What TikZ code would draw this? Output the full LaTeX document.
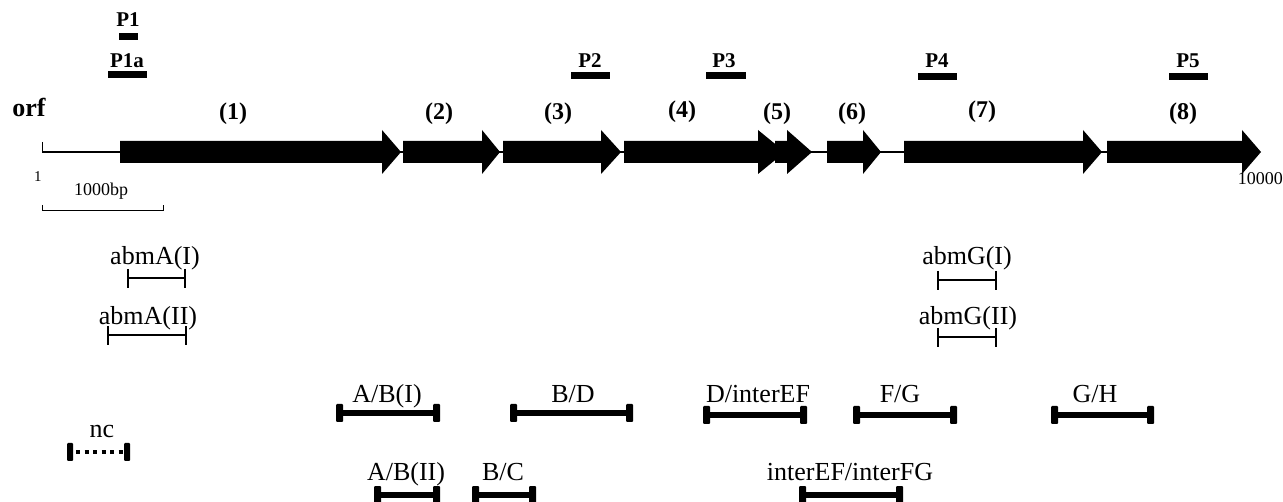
\documentclass[tikz,border=0pt]{standalone}
\usepackage{fontspec}
\setmainfont{Liberation Serif}
% filled gene arrow: start x, head start x, tip x
\newcommand{\orfarrow}[3]{\fill (#1,141) -- (#2,141) -- (#2,130) -- (#3,152) -- (#2,174) -- (#2,163) -- (#1,163) -- cycle;}
% thick amplicon bar with end caps: x1, x2, y
\newcommand{\fragment}[3]{%
  \draw[frag] (#1,#3) -- (#2,#3);
  \fill[endcap] (#1,#3-9) rectangle (#1+7,#3+9);
  \fill[endcap] (#2-7,#3-9) rectangle (#2,#3+9);}
% thin bracket: x1, x2, y
\newcommand{\bracketbar}[3]{%
  \draw[thinbar] (#1,#3) -- (#2,#3);
  \draw[thinbar] (#1,#3-9) -- (#1,#3+10);
  \draw[thinbar] (#2,#3-9) -- (#2,#3+10);}
\begin{document}
\begin{tikzpicture}[x=1pt,y=-1pt,
  lbl/.style={inner sep=0pt, anchor=base, font=\fontsize{26}{28}\selectfont},
  num/.style={inner sep=0pt, anchor=base, font=\bfseries\fontsize{24}{26}\selectfont},
  plbl/.style={inner sep=0pt, anchor=base, font=\bfseries\fontsize{21}{23}\selectfont},
  small/.style={inner sep=0pt, anchor=base, font=\fontsize{18}{20}\selectfont},
  backbone/.style={line width=2.5pt},
  thinbar/.style={line width=1.6pt},
  frag/.style={line width=5.5pt},
  endcap/.style={fill=black, rounded corners=1pt},
  probe/.style={fill=black},
]
\useasboundingbox (0,0) rectangle (1283,502);

% probes
\node[plbl] (p1) at (128,27) {P1};
\fill[probe] (119,33) rectangle (138,40);
\node[plbl] (p1a) at (127,68) {P1a};
\fill[probe] (108,71) rectangle (147,78);
\node[plbl] (p2) at (590,68) {P2};
\fill[probe] (571,72) rectangle (610,79);
\node[plbl] (p3) at (724,68) {P3};
\fill[probe] (706,72) rectangle (746,79);
\node[plbl] (p4) at (937,68) {P4};
\fill[probe] (918,73) rectangle (957,80);
\node[plbl] (p5) at (1188,68) {P5};
\fill[probe] (1169,73) rectangle (1208,80);

% open reading frames
\node[inner sep=0pt, anchor=base, font=\bfseries\fontsize{26}{28}\selectfont] (orf) at (29,117) {orf};
\draw[backbone] (42,152) -- (1255,152);
\draw[line width=1pt] (42,142) -- (42,152);
\orfarrow{120}{382}{401}
\orfarrow{403}{482}{500}
\orfarrow{503}{601}{621}
\orfarrow{624}{758}{785}
\orfarrow{775}{787}{812}
\orfarrow{827}{863}{881}
\orfarrow{904}{1083}{1102}
\orfarrow{1107}{1242}{1261}
\node[num] (o1) at (233,120) {(1)};
\node[num] (o2) at (439,120) {(2)};
\node[num] (o3) at (558,120) {(3)};
\node[num] (o4) at (682,118) {(4)};
\node[num] (o5) at (777,120) {(5)};
\node[num] (o6) at (852,120) {(6)};
\node[num] (o7) at (982,118) {(7)};
\node[num] (o8) at (1183,120) {(8)};

% coordinates and scale bar
\node[inner sep=0pt, anchor=base, font=\fontsize{15}{17}\selectfont] (start) at (38,182) {1};
\node[inner sep=0pt, anchor=base east, font=\fontsize{18}{20}\selectfont] (stop) at (1283,185) {10000};
\node[small] (scale) at (101,196) {1000bp};
\draw[line width=1pt] (42,205) -- (42,211) -- (163,211) -- (163,205);

% abmA / abmG amplicons
\node[lbl] (abmAI) at (155,265) {abmA(I)};
\bracketbar{128}{185}{278}
\node[lbl] (abmAII) at (148,325) {abmA(II)};
\bracketbar{108}{186}{335}
\node[lbl] (abmGI) at (967,265) {abmG(I)};
\bracketbar{938}{996}{280}
\node[lbl] (abmGII) at (968,325) {abmG(II)};
\bracketbar{938}{996}{337}

% intergenic amplicons
\node[lbl] (ab1) at (387,403) {A/B(I)};
\fragment{336}{440}{413}
\node[lbl] (bd) at (573,403) {B/D};
\fragment{510}{633}{413}
\node[lbl] (dief) at (758,403) {D/interEF};
\fragment{703}{807}{415}
\node[lbl] (fg) at (900,403) {F/G};
\fragment{853}{957}{415}
\node[lbl] (gh) at (1095,403) {G/H};
\fragment{1051}{1154}{415}
\node[lbl] (ab2) at (406,480) {A/B(II)};
\fragment{374}{440}{495}
\node[lbl] (bc) at (503,480) {B/C};
\fragment{472}{536}{495}
\node[lbl] (iefifg) at (850,480) {interEF/interFG};
\fragment{799}{903}{495}

% negative control
\node[lbl] (nc) at (102,438) {nc};
\fill[endcap] (67,443) rectangle (73,461);
\fill[endcap] (124,443) rectangle (130,461);
\draw[line width=4pt, dash pattern=on 4pt off 4.5pt] (76,452) -- (124,452);
\end{tikzpicture}
\end{document}
